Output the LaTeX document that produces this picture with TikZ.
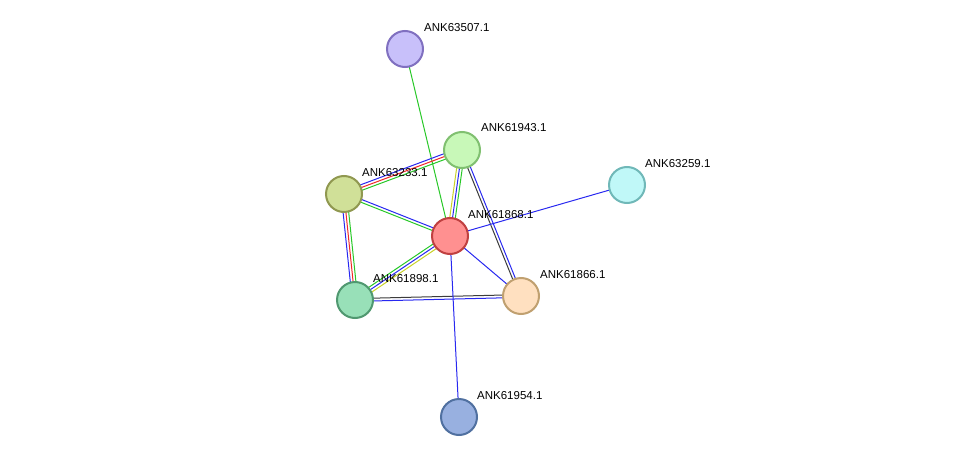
\documentclass[tikz,border=0pt]{standalone}
\usepackage{fontspec}
\setmainfont{Liberation Sans}
\usetikzlibrary{calc}
\definecolor{cgreen}{RGB}{40,200,40}
\definecolor{cblue}{RGB}{40,40,240}
\definecolor{cred}{RGB}{240,40,40}
\definecolor{cyel}{RGB}{200,210,40}
\definecolor{cblack}{RGB}{60,60,60}
\tikzset{prot/.style={circle,minimum size=36pt,inner sep=0pt,line width=2pt},
lab/.style={anchor=west,font=\fontsize{11.5}{13}\selectfont,inner sep=0pt},
edge/.style={line width=1pt}}
\newcommand\medgec[4]{%
 \foreach \c [count=\i] in {#3}{%
  \pgfmathsetmacro\o{(\i-1)*2.8-#4}%
  \draw[edge,\c] ($(#1)!\o pt!90:(#2)$) -- ($(#2)!\o pt!-90:(#1)$);}}
\begin{document}
\begin{tikzpicture}[x=1pt,y=-1pt]
\useasboundingbox (0,0) rectangle (975,463);
\coordinate (a) at (405,49);
\coordinate (b) at (462,150);
\coordinate (c) at (627,185);
\coordinate (d) at (344,194);
\coordinate (e) at (450,236);
\coordinate (f) at (355,300);
\coordinate (g) at (521,296);
\coordinate (h) at (459,417);
\medgec{a}{e}{cgreen}{0}
\medgec{d}{b}{cgreen,cred,cblue}{2.8}
\medgec{b}{e}{cyel,cblue,cgreen}{2.8}
\medgec{d}{e}{cgreen,cblue}{1.4}
\medgec{d}{f}{cblue,cred,cgreen}{2.8}
\medgec{e}{f}{cgreen,cblue,cyel}{2.8}
\medgec{b}{g}{cblack,cblue}{1.4}
\medgec{f}{g}{cblue,cblack}{1.4}
\medgec{e}{c}{cblue}{0}
\medgec{e}{g}{cblue}{0}
\medgec{e}{h}{cblue}{0}
\node[prot,fill={rgb,255:red,200;green,192;blue,250},draw={rgb,255:red,128;green,112;blue,192}] (na) at (a) {};
\node[prot,fill={rgb,255:red,200;green,248;blue,184},draw={rgb,255:red,128;green,192;blue,112}] (nb) at (b) {};
\node[prot,fill={rgb,255:red,192;green,248;blue,248},draw={rgb,255:red,112;green,184;blue,184}] (nc) at (c) {};
\node[prot,fill={rgb,255:red,208;green,224;blue,152},draw={rgb,255:red,144;green,152;blue,80}] (nd) at (d) {};
\node[prot,fill={rgb,255:red,255;green,144;blue,144},draw={rgb,255:red,192;green,64;blue,64}] (ne) at (e) {};
\node[prot,fill={rgb,255:red,152;green,224;blue,184},draw={rgb,255:red,80;green,152;blue,112}] (nf) at (f) {};
\node[prot,fill={rgb,255:red,255;green,224;blue,192},draw={rgb,255:red,192;green,160;blue,112}] (ng) at (g) {};
\node[prot,fill={rgb,255:red,152;green,176;blue,224},draw={rgb,255:red,80;green,112;blue,160}] (nh) at (h) {};
\node[lab] at ($(a)+(19,-21)$) {ANK63507.1};
\node[lab] at ($(b)+(19,-22)$) {ANK61943.1};
\node[lab] at ($(c)+(18,-21)$) {ANK63259.1};
\node[lab] at ($(d)+(18,-21)$) {ANK63233.1};
\node[lab] at ($(e)+(18,-21)$) {ANK61868.1};
\node[lab] at ($(f)+(18,-21)$) {ANK61898.1};
\node[lab] at ($(g)+(19,-21)$) {ANK61866.1};
\node[lab] at ($(h)+(18,-21)$) {ANK61954.1};
\end{tikzpicture}
\end{document}
